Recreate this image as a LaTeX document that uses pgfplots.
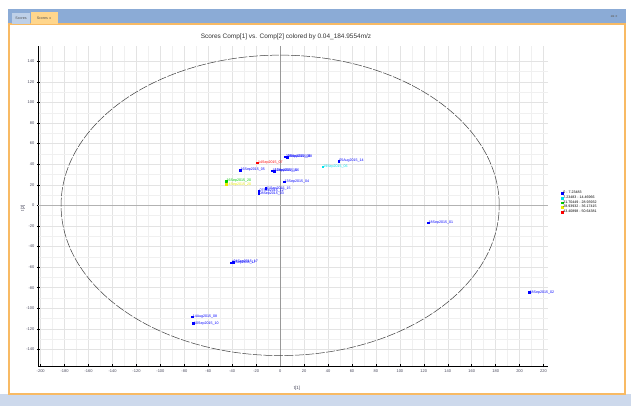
\documentclass[border=0pt]{standalone}
\usepackage{fontspec}
\setmainfont{Liberation Sans}
\newfontfamily\symfont{DejaVu Sans}
\usepackage{pgfplots}
\usepackage{pgfplotstable}
\pgfplotsset{compat=1.18}
\definecolor{barblue}{RGB}{139,171,214}
\definecolor{lowblue}{RGB}{205,217,236}
\definecolor{frameorange}{RGB}{248,186,100}
\definecolor{tabgold}{RGB}{255,214,140}
\definecolor{tabgray}{RGB}{190,208,232}
\definecolor{ptblue}{RGB}{0,0,255}
\definecolor{ptcyan}{RGB}{0,225,235}
\definecolor{ptgreen}{RGB}{0,205,0}
\definecolor{ptyellow}{RGB}{235,235,0}
\definecolor{ptred}{RGB}{255,0,0}
\definecolor{ticktext}{RGB}{70,70,90}

% scores: t1, t2, sample name
\pgfplotstableread{
x y name
4.3 47.3 20Sep2015\_08
5.8 47.0 09Sep2015\_08
-33.6 34.3 16Sep2015\_05
-6.8 33.7 15Sep2015\_16
-5.0 33.5 12Sep2015\_16
48.8 43.0 05Aug2015\_14
3.2 23.0 13Sep2015\_04
-12.0 16.5 11Sep2015\_15
-17.8 13.9 07Sep2015\_12
-17.8 11.7 08Sep2015\_03
123.5 -16.8 18Sep2015\_01
207.9 -84.5 18Sep2015\_02
-41.1 -55.6 14Sep2015\_17
-39.5 -55.0 04Sep2015\_17
-73.5 -108.1 14Aug2015\_08
-72.4 -114.6 10Sep2015\_10
}\blueset
\pgfplotstableread{
x y name
35.5 37.6 19Sep2015\_06
}\cyanset
\pgfplotstableread{
x y name
-45.2 23.6 16Sep2015\_20
}\greenset
\pgfplotstableread{
x y name
-45.2 20.4 14Sep2015\_20
}\yellowset
\pgfplotstableread{
x y name
-18.9 41.4 14Sep2015\_07
}\redset

\pgfplotsset{
  scorepts/.style={only marks, mark=square*, mark size=0.85bp, color=#1,
    point meta=explicit symbolic,
    nodes near coords,
    nodes near coords style={anchor=west, inner sep=0.5bp, text=#1,
      font=\fontsize{3.6}{4}\selectfont}},
}

\begin{document}
\begin{tikzpicture}[x=1bp,y=1bp]
\useasboundingbox (0,0) rectangle (631,406);
% window frame
\fill[white] (0,0) rectangle (631,406);
\fill[barblue] (8,382) rectangle (626,397);
\fill[lowblue] (0,0) rectangle (631,12);
\draw[frameorange, line width=1.2bp, fill=white] (9,12) rectangle (625,382);
\fill[tabgray] (12,382) rectangle (30,393);
\fill[tabgold] (31,382) rectangle (58,394);
\node[font=\fontsize{3.6}{4}\selectfont, text=black!70] at (21,387.5) {Scores};
\node[font=\fontsize{3.6}{4}\selectfont, text=black!70] at (44,388) {Scores\hspace{1.5bp}x};
\node[font=\symfont\fontsize{3.6}{4}\selectfont, text=black!60] at (614,389) {◂\,▸\,x};
% title and axis labels
\node[font=\fontsize{6.5}{7}\selectfont, text=black!80] at (286,369)
  {Scores Comp[1] vs. Comp[2] colored by 0.04\_184.9554m/z};
\node[font=\fontsize{4.5}{5}\selectfont, text=ticktext] at (297,18) {t[1]};
\node[font=\fontsize{4.5}{5}\selectfont, text=ticktext, rotate=90] at (23,198) {t[2]};

\begin{axis}[
    at={(32,39)}, anchor=south west,
    scale only axis, width=510bp, height=320bp,
    xmin=-202, xmax=224, ymin=-156, ymax=155,
    axis lines*=left, axis line style={-, black, line width=0.6bp},
    xtick={-200,-180,...,220}, ytick={-140,-120,...,140},
    minor x tick num=1, minor y tick num=1,
    grid=both,
    major grid style={gray!22, line width=0.5bp},
    minor grid style={gray!12, line width=0.4bp},
    tick align=center, major tick length=3bp, minor tick length=0pt,
    tick style={black, line width=0.5bp},
    ticklabel style={font=\fontsize{4}{4.5}\selectfont, text=ticktext},
    /pgf/number format/assume math mode=true,
    xticklabel style={yshift=1bp},
    yticklabel style={xshift=1bp},
    clip=false,
    legend cell align=left,
    legend style={at={(1.025,0.548)}, anchor=north west, draw=none, fill=none,
      font=\fontsize{3.6}{3.7}\selectfont, row sep=-0.3bp,
      inner sep=0pt, nodes={inner sep=0.5bp}},
  ]
  \draw[gray!80, line width=0.6bp] (axis cs:0,-156) -- (axis cs:0,155);
  \draw[gray!60, line width=0.6bp] (axis cs:-202,0) -- (axis cs:224,0);
  \draw[black!75, line width=0.5bp, dash pattern=on 9bp off 1.5bp]
    (axis cs:0,0) ellipse [x radius=183, y radius=146];
  \addplot[scorepts=ptblue] table[x=x, y=y, meta=name] {\blueset};
  \addlegendentry{0 - 7.23483}
  \addplot[scorepts=ptcyan] table[x=x, y=y, meta=name] {\cyanset};
  \addlegendentry{7.23483 - 14.46966}
  \addplot[scorepts=ptgreen] table[x=x, y=y, meta=name] {\greenset};
  \addlegendentry{21.70449 - 28.93932}
  \addplot[scorepts=ptyellow] table[x=x, y=y, meta=name] {\yellowset};
  \addlegendentry{28.93932 - 36.17415}
  \addplot[scorepts=ptred] table[x=x, y=y, meta=name] {\redset};
  \addlegendentry{43.40898 - 50.64381}
\end{axis}
\end{tikzpicture}
\end{document}
